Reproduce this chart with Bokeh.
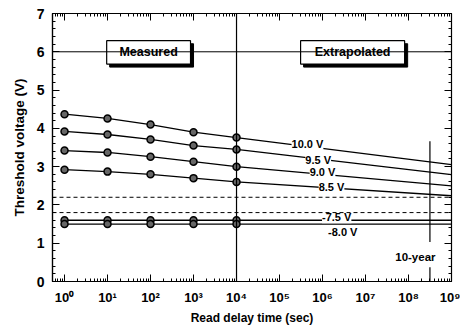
from bokeh.plotting import figure
from bokeh.models import (Range1d, LogAxis, LinearAxis, Span,
                          CustomJSTickFormatter, SingleIntervalTicker, LogTicker)
from bokeh.embed import file_html
from bokeh.resources import INLINE

# ---------------- data ----------------
times = [1, 10, 100, 1000, 10000]
t_end = 1e9
vt_100 = [4.37, 4.26, 4.10, 3.90, 3.76]
vt_095 = [3.92, 3.84, 3.71, 3.55, 3.45]
vt_090 = [3.42, 3.37, 3.26, 3.13, 3.00]
vt_085 = [2.92, 2.87, 2.80, 2.70, 2.60]
vt_m075 = [1.60, 1.60, 1.60, 1.60, 1.60]
vt_m080 = [1.50, 1.50, 1.50, 1.50, 1.50]
end_vals = [3.05, 2.79, 2.50, 2.24, 1.60, 1.50]
dashed_levels = [2.2, 1.8]
series_labels = ["10.0 V", "9.5 V", "9.0 V", "8.5 V", "-7.5 V", "-8.0 V"]
label_x_exp = [5.65, 5.90, 6.00, 6.21, 6.33, 6.47]
label_y = [3.60, 3.18, 2.87, 2.47, 1.68, 1.29]
ten_year = 3.15e8
region_labels = ["Measured", "Extrapolated"]
region_x_exp = [(0.98, 2.93), (5.49, 7.91)]
region_y = (5.68, 6.29)

FONT = "Liberation Sans"

p = figure(width=460, height=329, x_axis_type="log",
           x_range=Range1d(10 ** -0.28, 1e9), y_range=Range1d(0, 7),
           output_backend="svg", toolbar_location=None,
           min_border_left=52, min_border_right=9, min_border_top=13,
           min_border_bottom=48)
p.grid.visible = False
p.outline_line_color = "black"
p.outline_line_width = 1.2
p.background_fill_color = "white"

sup = CustomJSTickFormatter(code="""
const s = {'0':'\u2070','1':'\u00b9','2':'\u00b2','3':'\u00b3','4':'\u2074',
           '5':'\u2075','6':'\u2076','7':'\u2077','8':'\u2078','9':'\u2079','-':'\u207b'};
const e = Math.round(Math.log10(tick));
return '10' + String(e).split('').map(c => s[c]).join('');
""")
blank = CustomJSTickFormatter(code="return ' ';")

xa = p.xaxis[0]
xa.ticker = LogTicker(num_minor_ticks=10)
xa.formatter = sup
xa.axis_label = "Read delay time (sec)"
ya = p.yaxis[0]
ya.ticker = SingleIntervalTicker(interval=1, num_minor_ticks=5)
ya.axis_label = "Threshold voltage (V)"

for ax in (xa, ya):
    ax.major_tick_in = 7
    ax.major_tick_out = 0
    ax.minor_tick_in = 3
    ax.minor_tick_out = 0
    ax.axis_line_width = 1.2
    ax.major_label_text_font = FONT
    ax.major_label_text_font_style = "bold"
    ax.major_label_text_color = "black"
    ax.axis_label_text_font = FONT
    ax.axis_label_text_font_style = "bold"
    ax.axis_label_text_color = "black"
xa.major_label_text_font_size = "13px"
ya.major_label_text_font_size = "14px"
xa.axis_label_text_font_size = "12px"
ya.axis_label_text_font_size = "13.5px"
xa.major_label_standoff = 8
ya.major_label_standoff = 8
xa.axis_label_standoff = 3
ya.axis_label_standoff = 7

top = LogAxis(ticker=LogTicker(num_minor_ticks=10), formatter=blank,
              major_tick_in=7, major_tick_out=0, minor_tick_in=3, minor_tick_out=0,
              major_label_standoff=0, major_label_text_font_size="1px")
right = LinearAxis(ticker=SingleIntervalTicker(interval=1, num_minor_ticks=5),
                   formatter=blank, major_tick_in=7, major_tick_out=0,
                   minor_tick_in=3, minor_tick_out=0, major_label_standoff=0,
                   major_label_text_font_size="1px")
p.add_layout(top, "above")
p.add_layout(right, "right")

# reference lines
p.add_layout(Span(location=6, dimension="width", line_color="black", line_width=1))
p.add_layout(Span(location=1e4, dimension="height", line_color="black", line_width=1.2))
for lv in dashed_levels:
    p.add_layout(Span(location=lv, dimension="width", line_color="black",
                      line_width=1, line_dash="4 3"))

# series
series = [vt_100, vt_095, vt_090, vt_085, vt_m075, vt_m080]
for vals, ev in zip(series, end_vals):
    p.line(times + [t_end], vals + [ev], line_color="black", line_width=1.3)
for vals in series:
    p.scatter(times, vals, size=7, marker="circle", fill_color="#666666",
              line_color="black", line_width=1.5)

# 10-year marker
p.segment(x0=[ten_year, ten_year], y0=[1.03, 0.0], x1=[ten_year, ten_year],
          y1=[3.66, 0.37], line_color="black", line_width=1.2)
p.text(x=[10 ** 8.16], y=[0.63], text=["10-year"], text_align="center",
       text_baseline="middle", text_font={"value": FONT}, text_font_style="bold",
       text_font_size="11.5px", text_color="black")

# series labels with white backing
p.text(x=[10 ** e for e in label_x_exp], y=label_y, text=series_labels,
       text_align="center", text_baseline="middle", text_font={"value": FONT},
       text_font_style="bold", text_font_size="11px", text_color="black",
       background_fill_color="white")

# boxed region labels with shadow
sx = 0.07
sy = 0.08
for txt, (x0, x1) in zip(region_labels, region_x_exp):
    y0, y1 = region_y
    p.quad(left=[10 ** (x0 + sx)], right=[10 ** (x1 + sx)], bottom=[y0 - sy],
           top=[y1 - sy], fill_color="black", line_color="black")
    p.quad(left=[10 ** x0], right=[10 ** x1], bottom=[y0], top=[y1],
           fill_color="white", line_color="black", line_width=1.2)
    p.text(x=[10 ** ((x0 + x1) / 2)], y=[(y0 + y1) / 2], text=[txt],
           text_align="center", text_baseline="middle", text_font={"value": FONT},
           text_font_style="bold", text_font_size="12.5px", text_color="black")

open("out.html", "w").write(file_html(p, INLINE))
